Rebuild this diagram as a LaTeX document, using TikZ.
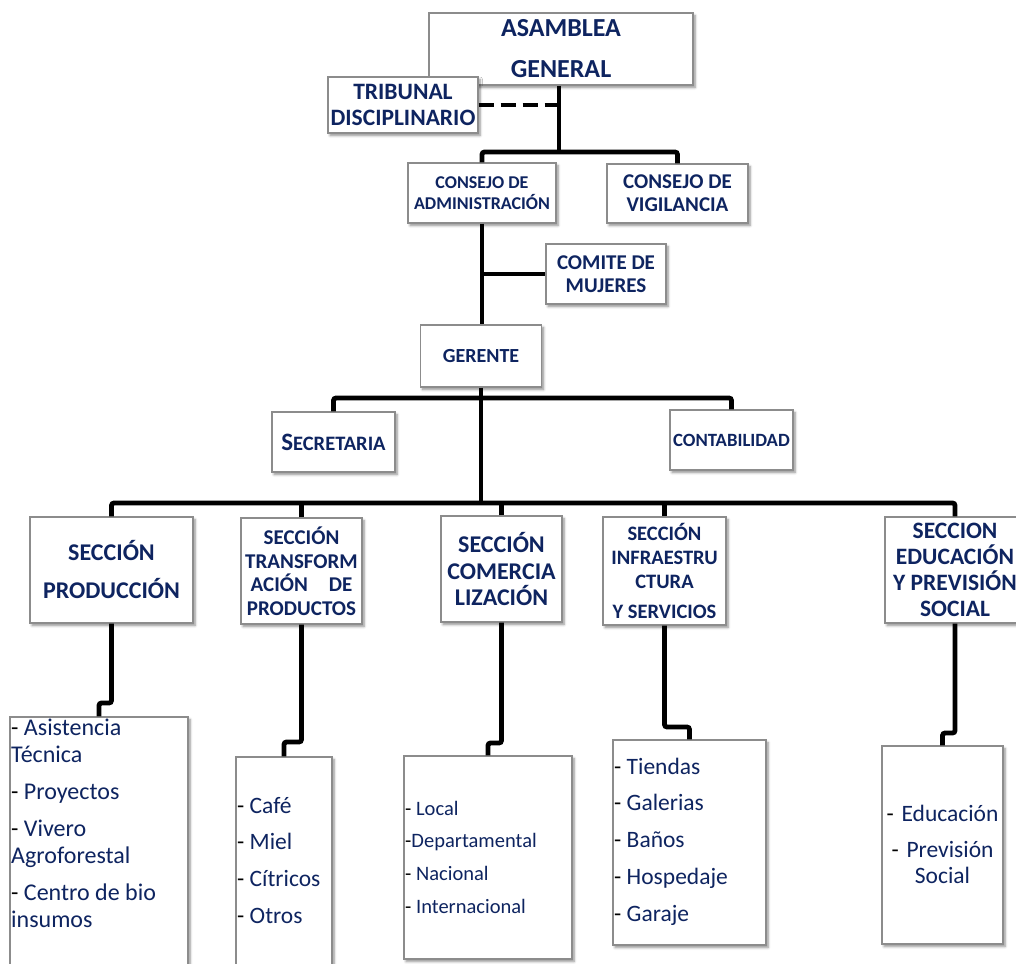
\documentclass[tikz,border=0pt]{standalone}
\usepackage{fontspec}
\setmainfont{Carlito}
\usetikzlibrary{shadows.blur}
\definecolor{navy}{RGB}{14,36,96}
\definecolor{boxline}{RGB}{140,140,140}
\newcommand\setfs[2]{\fontsize{#1}{#2}\selectfont}
\newcommand\dsh{{\color{black}-}}

\begin{document}
\begin{tikzpicture}[x=1pt,y=-1pt,
  box/.style={draw=boxline, line width=1.1pt, fill=white, inner sep=0pt,
    align=center, text=navy,
    blur shadow={shadow xshift=2pt, shadow yshift=-2.5pt, shadow blur radius=2.5pt,
      shadow blur steps=6, shadow opacity=45}},
  wh/.style 2 args={minimum width=#1pt, minimum height=#2pt},
  hd/.style 2 args={font=\setfs{#1}{#2}\bfseries},
  items/.style={text=navy, inner sep=0pt, anchor=base west, align=flush left},
  link/.style={line width=4.8pt, rounded corners=2.5pt},
  weak/.style={line width=4.8pt, dash pattern=on 15pt off 7pt}
]
\useasboundingbox (0,0) rectangle (1016,963);

% governing bodies
\node[box, wh={264}{72}, hd={26}{41}] (asamblea) at (561,49) {ASAMBLEA\\GENERAL};
\node[box, wh={150}{56}, hd={23.5}{26}] (tribunal) at (403,105) {TRIBUNAL\\DISCIPLINARIO};
\node[box, wh={148}{60}, hd={18}{21}] (admin) at (482,193) {CONSEJO DE\\ADMINISTRACIÓN};
\node[box, wh={141}{59}, hd={21}{23}] (vigil) at (677.5,193.5) {CONSEJO DE\\VIGILANCIA};
\node[box, wh={120}{60}, hd={21}{23}] (comite) at (606,274) {COMITE DE\\MUJERES};
\node[box, wh={121}{62}, hd={20}{24}] (gerente) at (481,356) {GERENTE};
\node[box, wh={123}{60}, hd={20.5}{24}] (secre) at (333.5,442) {{\fontsize{25}{24}\selectfont S}ECRETARIA};
\node[box, wh={123}{60}, hd={18.7}{22}] (conta) at (731.5,440) {CONTABILIDAD};

% sections
\node[box, wh={163}{106}, hd={24}{38}] (prod) at (111.5,570) {SECCIÓN\\PRODUCCIÓN};
\node[box, wh={121}{106}, hd={21}{23.5}] (transf) at (301.5,571) {SECCIÓN\\TRANSFORM\\ACIÓN\quad DE\\PRODUCTOS};
\node[box, wh={121}{106}, hd={24}{26.5}] (comerc) at (501.5,569) {SECCIÓN\\COMERCIA\\LIZACIÓN};
\node[box, wh={123}{108}, hd={20.5}{24}] (infra) at (664.5,571) {SECCIÓN\\INFRAESTRU\\CTURA\\[6pt]Y SERVICIOS};
\node[box, wh={140}{106}, hd={23.5}{26}] (educ) at (955,570) {SECCION\\EDUCACIÓN\\Y PREVISIÓN\\SOCIAL};

% activity boxes
\node[box, wh={178}{258}] (prodlist) at (99,846) {};
\node[box, wh={96}{218}] (transflist) at (284,866) {};
\node[box, wh={168}{203}] (comerclist) at (488,857.5) {};
\node[box, wh={153}{205}] (infralist) at (689.5,842.5) {};
\node[box, wh={121}{198}] (educlist) at (942.5,845) {};

\node[items, text width=176pt, font=\setfs{24}{27}] (prodtxt) at (11,735)
  {\dsh{} Asistencia\\Técnica\\[10pt]\dsh{} Proyectos\\[10pt]\dsh{} Vivero\\Agroforestal\\[10pt]\dsh{} Centro de bio\\insumos};
\node[items, text width=94pt, font=\setfs{23.5}{36.7}] (transftxt) at (237,813)
  {\dsh{} Café\\\dsh{} Miel\\\dsh{} Cítricos\\\dsh{} Otros};
\node[items, text width=166pt, font=\setfs{20.5}{32.7}] (commtxt) at (405,815)
  {\dsh{} Local\\\dsh{}Departamental\\\dsh{} Nacional\\\dsh{} Internacional};
\node[items, text width=151pt, font=\setfs{23.5}{36.8}] (infratxt) at (614,774)
  {\dsh{} Tiendas\\\dsh{} Galerias\\\dsh{} Baños\\\dsh{} Hospedaje\\\dsh{} Garaje};
\node[items, anchor=base, text width=121pt, align=center, font=\setfs{23.5}{36}] (eductxt) at (942.5,821)
  {\dsh{} Educación\\[0pt]\dsh{} Previsión\\[-10pt]Social};

% junction points of the connectors
\coordinate (j1) at (559,152);
\coordinate (j2) at (481,398);
\coordinate (j3) at (481,503);
\coordinate (k1) at (99,703);
\coordinate (k2) at (284,742);
\coordinate (k3) at (488,743);
\coordinate (k4) at (689.5,727);
\coordinate (k5) at (942.5,733);

% connectors
\draw[weak] (tribunal.east) -- (tribunal.east -| j1);
\draw[link] (asamblea.south -| j1) -- (j1);
\draw[link] (admin.north) |- (j1) -| (vigil.north);
\draw[link] (admin.south) -- (admin.south |- gerente.north);
\draw[link] (admin.south |- comite.west) -- (comite.west);
\draw[link] (gerente.south) -- (j3);
\draw[link] (secre.north) |- (j2) -| (conta.north);
\draw[link] (prod.north) |- (j3) -| (educ.north);
\draw[link] (transf.north) -- (transf.north |- j3);
\draw[link] (comerc.north) -- (comerc.north |- j3);
\draw[link] (infra.north) -- (infra.north |- j3);
\draw[link] (prod.south) |- (k1) -- (prodlist.north);
\draw[link] (transf.south) |- (k2) -- (transflist.north);
\draw[link] (comerc.south) |- (k3) -- (comerclist.north);
\draw[link] (infra.south) |- (k4) -- (infralist.north);
\draw[link] (educ.south) |- (k5) -- (educlist.north);
\end{tikzpicture}
\end{document}
